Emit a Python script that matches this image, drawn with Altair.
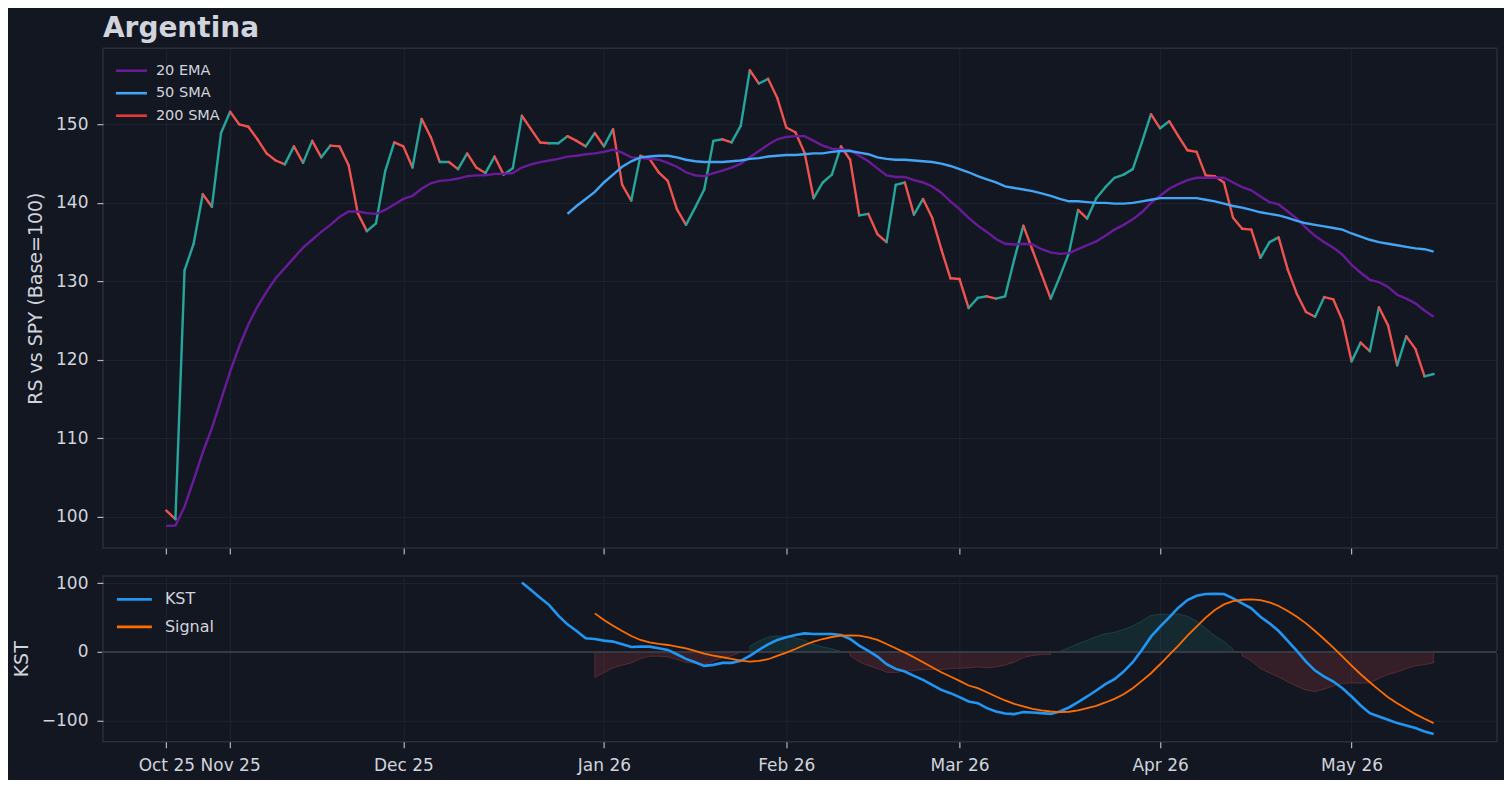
import altair as alt
import pandas as pd

chart_title = "Argentina"
top_y_title = "RS vs SPY (Base=100)"
bottom_y_title = "KST"

# RS line vs SPY, one value per trading day (index 0 = first session)
rs = [100.8, 99.7, 131.4, 134.8, 141.1, 139.5, 148.9, 151.6, 150.0, 149.7,
      148.1, 146.3, 145.4, 144.9, 147.2, 145.1, 147.9, 145.8, 147.3, 147.2,
      144.8, 138.7, 136.4, 137.4, 144.0, 147.7, 147.2, 144.5, 150.7, 148.4,
      145.2, 145.2, 144.3, 146.3, 144.5, 143.8, 145.9, 143.6, 144.4, 151.1,
      149.4, 147.7, 147.6, 147.6, 148.5, 147.9, 147.2, 148.9, 147.2, 149.4,
      142.3, 140.3, 146.0, 145.6, 143.9, 142.8, 139.2, 137.2, 139.4, 141.7,
      147.9, 148.1, 147.7, 149.8, 156.9, 155.2, 155.8, 153.4, 149.6, 149.0,
      146.4, 140.6, 142.6, 143.6, 147.2, 145.5, 138.4, 138.6, 136.0, 135.0,
      142.3, 142.6, 138.5, 140.5, 138.1, 134.1, 130.4, 130.3, 126.6, 127.9,
      128.1, 127.8, 128.1, 132.8, 137.1, 134.0, 130.9, 127.8, 130.6, 133.6,
      139.1, 138.0, 140.6, 142.0, 143.2, 143.6, 144.3, 147.7, 151.3, 149.5,
      150.4, 148.5, 146.7, 146.5, 143.5, 143.4, 142.6, 138.1, 136.7, 136.6,
      133.0, 135.0, 135.6, 131.5, 128.4, 126.1, 125.5, 128.0, 127.7, 125.0,
      119.8, 122.2, 121.1, 126.7, 124.4, 119.3, 123.0, 121.4, 117.9, 118.2]

ema20 = [98.85, 98.9, 101.3, 104.7, 108.2, 111.3, 114.9, 118.5, 121.7, 124.5,
         126.8, 128.7, 130.4, 131.7, 133.0, 134.3, 135.3, 136.3, 137.2, 138.2,
         138.9, 138.9, 138.7, 138.6, 139.1, 139.8, 140.5, 140.9, 141.8, 142.5,
         142.8, 142.9, 143.1, 143.4, 143.5, 143.5, 143.7, 143.7, 143.8, 144.5,
         144.9, 145.2, 145.4, 145.6, 145.9, 146.0, 146.2, 146.3, 146.5, 146.8,
         146.4, 145.8, 145.7, 145.6, 145.5, 145.1, 144.6, 143.9, 143.5, 143.4,
         143.8, 144.1, 144.5, 145.0, 145.8, 146.6, 147.4, 148.1, 148.4, 148.5,
         148.5, 147.9, 147.3, 146.9, 146.8, 146.7, 146.0, 145.3, 144.4, 143.5,
         143.3, 143.3, 142.9, 142.6, 142.1, 141.3, 140.2, 139.2, 138.1, 137.1,
         136.3, 135.4, 134.8, 134.7, 134.8, 134.7, 134.1, 133.7, 133.5, 133.6,
         134.1, 134.6, 135.1, 135.8, 136.6, 137.2, 137.9, 138.8, 140.0, 140.9,
         141.8, 142.4, 142.9, 143.2, 143.2, 143.2, 143.2, 142.6, 142.0, 141.6,
         140.8, 140.1, 139.8, 138.9, 138.0, 136.8, 135.8, 135.0, 134.3, 133.4,
         132.1, 131.1, 130.2, 129.9, 129.3, 128.3, 127.8, 127.2, 126.3, 125.5]

sma50_start = 44
sma50 = [138.6, 139.6, 140.5, 141.4, 142.6, 143.6, 144.6, 145.3, 145.8, 145.9,
         146.0, 146.0, 145.8, 145.5, 145.3, 145.2, 145.2, 145.2, 145.3, 145.4,
         145.6, 145.7, 145.9, 146.0, 146.1, 146.1, 146.2, 146.3, 146.3, 146.5,
         146.6, 146.6, 146.4, 146.2, 145.8, 145.6, 145.5, 145.5, 145.4, 145.3,
         145.2, 145.0, 144.7, 144.3, 143.9, 143.4, 143.0, 142.6, 142.1, 141.9,
         141.7, 141.5, 141.2, 140.9, 140.5, 140.2, 140.2, 140.1, 140.0, 140.0,
         139.9, 139.9, 140.0, 140.2, 140.4, 140.6, 140.6, 140.6, 140.6, 140.6,
         140.4, 140.2, 139.9, 139.6, 139.4, 139.1, 138.8, 138.6, 138.4, 138.1,
         137.7, 137.4, 137.2, 137.0, 136.8, 136.6, 136.1, 135.7, 135.3, 135.0,
         134.8, 134.6, 134.4, 134.2, 134.1, 133.8]

kst_start = 39
kst = [101.0, 89.9, 78.7, 68.1, 52.7, 40.1, 30.4, 19.8, 18.8, 16.4,
       15.0, 11.1, 7.2, 7.7, 7.7, 5.3, 2.9, -3.4, -10.1, -15.0,
       -20.3, -18.8, -15.9, -15.9, -13.0, -5.8, 2.9, 11.1, 17.4, 21.3,
       24.6, 27.0, 26.1, 26.1, 26.1, 24.6, 18.8, 9.2, 1.4, -6.8,
       -17.9, -24.6, -28.5, -34.8, -40.6, -47.8, -55.1, -59.9, -65.7, -72.0,
       -74.4, -81.6, -86.5, -89.4, -90.3, -87.4, -87.9, -88.9, -89.9, -86.5,
       -80.7, -72.9, -64.7, -56.0, -46.9, -39.6, -28.5, -15.0, 2.9, 22.2,
       36.7, 50.2, 64.3, 75.4, 81.6, 84.1, 84.5, 84.1, 77.8, 70.5,
       63.3, 51.2, 41.5, 30.4, 15.9, 1.4, -14.0, -27.1, -35.7, -43.0,
       -52.7, -64.7, -77.8, -88.9, -93.7, -98.6, -103.4, -106.8, -110.6, -115.5,
       -119.3]

signal_start = 47
signal = [56.0, 46.4, 38.2, 30.4, 23.2, 17.4, 14.0, 11.6, 10.1, 7.7,
          5.3, 1.4, -2.4, -5.3, -7.7, -10.1, -12.6, -14.0, -13.0, -10.6,
          -5.8, -1.0, 4.3, 10.1, 15.0, 18.8, 21.7, 23.7, 24.2, 23.7,
          21.3, 17.4, 11.6, 5.3, -1.0, -7.7, -15.0, -22.2, -29.5, -35.7,
          -42.0, -48.8, -52.7, -58.5, -64.7, -70.5, -75.4, -79.2, -82.6, -85.0,
          -86.5, -87.4, -86.9, -85.0, -81.6, -78.3, -73.4, -68.1, -61.4, -52.7,
          -42.0, -30.9, -17.9, -4.3, 9.2, 23.7, 36.7, 49.8, 60.9, 69.1,
          73.9, 75.8, 76.3, 75.4, 72.0, 66.7, 59.4, 51.2, 41.5, 30.4,
          18.4, 6.3, -6.8, -19.8, -32.4, -44.0, -55.1, -65.7, -74.4, -82.6,
          -90.3, -97.1, -103.4]

tick_pos = [0, 7, 26, 48, 68, 87, 109, 130]
tick_labels = ["Oct 25", "Nov 25", "Dec 25", "Jan 26", "Feb 26", "Mar 26", "Apr 26", "May 26"]

top_series = ["20 EMA", "50 SMA", "200 SMA"]
top_colors = ["#6a1b9a", "#42a5f5", "#e53935"]
bottom_series = ["KST", "Signal"]
bottom_colors = ["#2196f3", "#ff6d00"]
up_color = "#26a69a"
down_color = "#ef5350"

BG = "#131722"
TXT = "#d1d4dc"
GRID = "#1f2330"
FONT = "DejaVu Sans"
LEGEND_LINE = "M-2,0L2,0"

n = len(rs)

# ---- tables built from the arrays ----
seg = pd.DataFrame({
    "i": list(range(n - 1)),
    "i2": list(range(1, n)),
    "v": rs[:-1],
    "v2": rs[1:],
})
seg["up"] = seg["v2"] >= seg["v"]

ma_rows = [{"i": k, "value": v, "series": "20 EMA"} for k, v in enumerate(ema20)]
ma_rows += [{"i": sma50_start + k, "value": v, "series": "50 SMA"} for k, v in enumerate(sma50)]
ma = pd.DataFrame(ma_rows)

osc_rows = [{"i": kst_start + k, "value": v, "series": "KST"} for k, v in enumerate(kst)]
osc_rows += [{"i": signal_start + k, "value": v, "series": "Signal"} for k, v in enumerate(signal)]
osc = pd.DataFrame(osc_rows)

fill_rows = []
run = 0
prev = None
for k, s in enumerate(signal):
    idx = signal_start + k
    d = kst[idx - kst_start] - s
    pos = d >= 0
    if prev is not None and pos != prev:
        run += 1
    prev = pos
    fill_rows.append({"i": idx, "diff": d, "pos": pos, "run": run})
fill = pd.DataFrame(fill_rows)

x_scale = alt.Scale(domain=[-6.95, 145.95], nice=False, zero=False)
y_top_scale = alt.Scale(domain=[96.05, 159.7], nice=False, zero=False)
y_bot_scale = alt.Scale(domain=[-130.5, 110.5], nice=False, zero=False)

label_expr = " : ".join(f"datum.value == {p} ? '{l}'" for p, l in zip(tick_pos, tick_labels)) + " : ''"

x_top_axis = alt.Axis(values=tick_pos, labels=False, title=None, grid=True)
x_bot_axis = alt.Axis(values=tick_pos, labelExpr=label_expr, title=None, grid=True,
                      labelOverlap=False, labelFlush=False, labelPadding=10)

# ---- top panel ----
rs_segments = alt.Chart(seg).mark_rule(strokeWidth=2.4, strokeCap="round").encode(
    x=alt.X("i:Q", scale=x_scale, axis=x_top_axis),
    x2="i2:Q",
    y=alt.Y("v:Q", scale=y_top_scale,
            axis=alt.Axis(values=[100, 110, 120, 130, 140, 150], format="d", title=top_y_title)),
    y2="v2:Q",
    color=alt.condition("datum.up", alt.value(up_color), alt.value(down_color)),
)

ma_lines = alt.Chart(ma).mark_line(strokeWidth=2.4).encode(
    x=alt.X("i:Q", scale=x_scale),
    y=alt.Y("value:Q", scale=y_top_scale),
    color=alt.Color("series:N", scale=alt.Scale(domain=top_series, range=top_colors),
                    sort=top_series,
                    legend=alt.Legend(orient="none", legendX=19, legendY=13, title=None,
                                      symbolType=LEGEND_LINE, symbolSize=240, symbolStrokeWidth=2.6,
                                      labelFontSize=14.5, labelOffset=15, rowPadding=6.5,
                                      padding=0, labelFont=FONT, labelColor=TXT)),
    detail="series:N",
)

top = alt.layer(rs_segments, ma_lines).properties(
    width=1395, height=500,
    title=alt.TitleParams(chart_title, anchor="start", frame="group", fontSize=28, font=FONT,
                          fontWeight="bold", color=TXT, offset=5),
)

# ---- bottom panel ----
pos_fill = alt.Chart(fill).transform_filter("datum.pos").mark_area(
    color=up_color, fillOpacity=0.13, stroke=up_color, strokeOpacity=0.25, strokeWidth=1
).encode(
    x=alt.X("i:Q", scale=x_scale, axis=x_bot_axis),
    y=alt.Y("diff:Q", scale=y_bot_scale,
            axis=alt.Axis(values=[-100, 0, 100], format="d", title=bottom_y_title)),
    y2=alt.datum(0),
    detail="run:N",
)
neg_fill = alt.Chart(fill).transform_filter("!datum.pos").mark_area(
    color=down_color, fillOpacity=0.15, stroke=down_color, strokeOpacity=0.25, strokeWidth=1
).encode(
    x=alt.X("i:Q", scale=x_scale),
    y=alt.Y("diff:Q", scale=y_bot_scale),
    y2=alt.datum(0),
    detail="run:N",
)
zero_line = alt.Chart(fill).mark_rule(color="#363a45", strokeWidth=2).encode(
    y=alt.datum(0),
)
osc_lines = alt.Chart(osc).mark_line().encode(
    x=alt.X("i:Q", scale=x_scale),
    y=alt.Y("value:Q", scale=y_bot_scale),
    color=alt.Color("series:N", scale=alt.Scale(domain=bottom_series, range=bottom_colors),
                    sort=bottom_series,
                    legend=alt.Legend(orient="none", legendX=21, legendY=13, title=None,
                                      symbolType=LEGEND_LINE, symbolSize=306, symbolStrokeWidth=2.6,
                                      labelFontSize=16, labelOffset=20, rowPadding=8.5,
                                      padding=0, labelFont=FONT, labelColor=TXT)),
    strokeWidth=alt.StrokeWidth("series:N",
                                scale=alt.Scale(domain=bottom_series, range=[2.6, 1.8]),
                                legend=None),
)

bottom = alt.layer(neg_fill, pos_fill, zero_line, osc_lines).properties(width=1395, height=166)

chart = alt.vconcat(top, bottom, spacing=17).resolve_scale(
    color="independent", y="independent"
).properties(
    background=BG,
    padding={"left": 3, "top": 6, "right": 5, "bottom": 5},
).configure_view(
    stroke="#2a2e39", strokeWidth=1.5, fill=BG,
).configure_axis(
    domain=False, gridColor=GRID, gridWidth=1,
    tickColor="#b2b5be", tickSize=6, tickWidth=1.2,
    labelColor=TXT, labelFont=FONT, labelFontSize=17, labelPadding=9,
    titleColor=TXT, titleFont=FONT, titleFontSize=19, titleFontWeight="normal",
    titlePadding=10,
).configure_legend(
    labelColor=TXT, labelFont=FONT,
)

chart.save("out.html", embed_options={"renderer": "svg", "actions": False})
